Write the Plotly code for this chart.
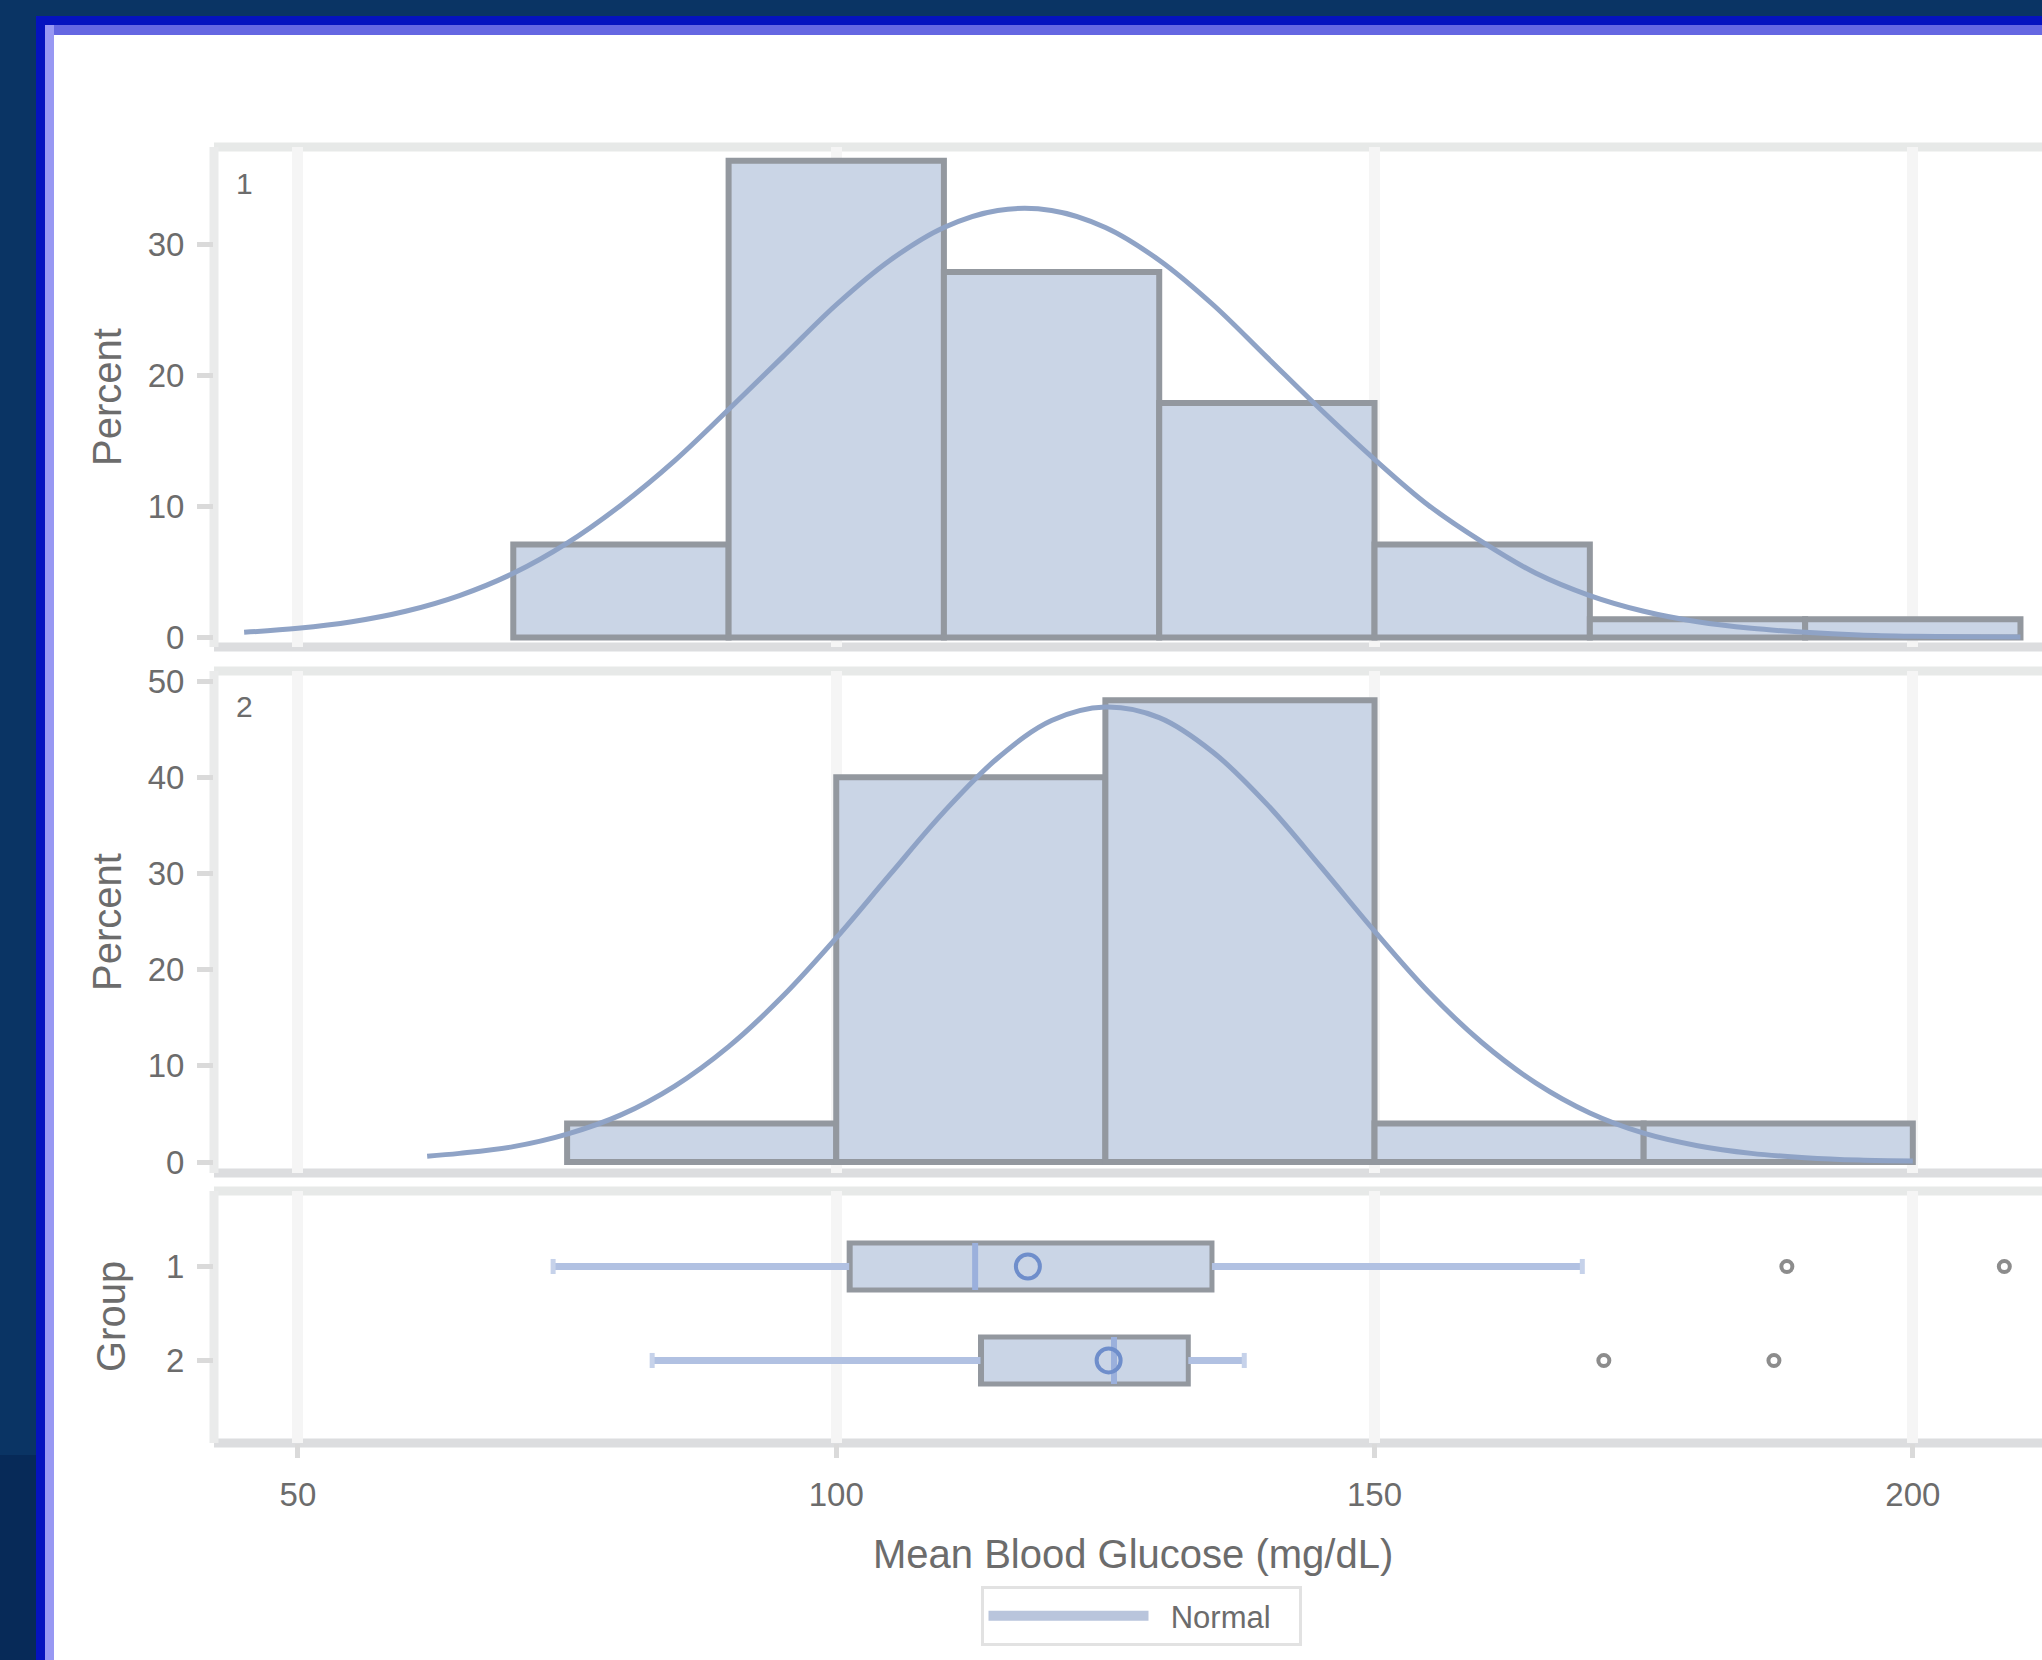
import plotly.graph_objects as go

# ---------------- data ----------------
# Group 1 histogram (percent per 20-unit bin)
g1_bin_start = [70, 90, 110, 130, 150, 170, 190]
g1_bin_width = 20
g1_percent = [7.1, 36.4, 27.9, 17.9, 7.1, 1.4, 1.4]

# Group 2 histogram (percent per 25-unit bin)
g2_bin_start = [75, 100, 125, 150, 175]
g2_bin_width = 25
g2_percent = [4.0, 40.0, 48.0, 4.0, 4.0]

# Normal curves, points
g1_curve_x = [45, 50, 55, 60, 65, 70, 75, 80, 85, 90, 95, 100, 105, 110, 115, 120, 125, 130, 135,
              140, 145, 150, 155, 160, 165, 170, 175, 180, 185, 190, 195, 200, 205, 210]
g1_curve_y = [0.4, 0.7, 1.2, 2.0, 3.2, 4.9, 7.2, 10.1, 13.5, 17.4, 21.4, 25.4, 28.8, 31.3, 32.6, 32.6,
              31.3, 28.8, 25.4, 21.4, 17.4, 13.6, 10.1, 7.3, 4.9, 3.2, 2.0, 1.2, 0.7, 0.4, 0.2, 0.1, 0.05, 0.03]

g2_curve_x = [62, 65, 70, 75, 80, 85, 90, 95, 100, 105, 110, 115, 120, 125, 130, 135, 140, 145, 150,
              155, 160, 165, 170, 175, 180, 185, 190, 195, 200]
g2_curve_y = [0.6, 0.9, 1.6, 2.9, 4.9, 7.9, 12.0, 17.2, 23.3, 29.9, 36.4, 42.0, 45.9, 47.3, 46.2, 42.6,
              37.2, 30.7, 24.0, 17.7, 12.4, 8.2, 5.1, 3.0, 1.7, 0.9, 0.45, 0.2, 0.1]

# Box plot summaries
groups = [1, 2]
group_labels = ["1", "2"]
lower_whisker = [73.7, 82.9]
q1 = [101.2, 113.4]
median = [112.9, 125.8]
mean = [117.8, 125.3]
q3 = [134.9, 132.7]
upper_whisker = [169.3, 137.9]
outlier_x = [188.3, 208.5, 171.3, 187.1]
outlier_group = [1, 1, 2, 2]

x_ticks = [50, 100, 150, 200]
top_y_ticks = [0, 10, 20, 30]
mid_y_ticks = [0, 10, 20, 30, 40, 50]

# ---------------- geometry / style ----------------
W, H = 2042, 1660
L, R, T, B = 214, 0, 147, 217
PW = W - L - R
PH = H - T - B


def px(xp):
    return (xp - L) / PW


def py(yp):
    return (H - B - yp) / PH


FONT = "Liberation Sans, Arial, sans-serif"
TXT = "#6c6c6c"
BAR_FILL = "#cad5e6"
BAR_LINE = "#93989f"
CURVE = "#8fa3c6"
WHISK = "#b1c1e2"

fig = go.Figure()

# histograms
fig.add_trace(go.Bar(
    x=[s + g1_bin_width / 2 for s in g1_bin_start], y=g1_percent,
    width=[g1_bin_width] * len(g1_bin_start),
    marker=dict(color=BAR_FILL, line=dict(color=BAR_LINE, width=6)),
    showlegend=False, xaxis="x", yaxis="y", hoverinfo="skip"))
fig.add_trace(go.Scatter(
    x=g1_curve_x, y=g1_curve_y, mode="lines", name="Normal",
    line=dict(color=CURVE, width=5, shape="spline"),
    showlegend=False, xaxis="x", yaxis="y", hoverinfo="skip"))

fig.add_trace(go.Bar(
    x=[s + g2_bin_width / 2 for s in g2_bin_start], y=g2_percent,
    width=[g2_bin_width] * len(g2_bin_start),
    marker=dict(color=BAR_FILL, line=dict(color=BAR_LINE, width=6)),
    showlegend=False, xaxis="x2", yaxis="y2", hoverinfo="skip"))
fig.add_trace(go.Scatter(
    x=g2_curve_x, y=g2_curve_y, mode="lines", name="Normal",
    line=dict(color=CURVE, width=5, shape="spline"),
    showlegend=False, xaxis="x2", yaxis="y2", hoverinfo="skip"))

# legend entry for the normal curves
fig.add_trace(go.Scatter(
    x=[None], y=[None], mode="lines", name="\u00a0\u00a0Normal",
    line=dict(color="#b9c5dc", width=12),
    showlegend=True, xaxis="x", yaxis="y", hoverinfo="skip"))

# box plot: boxes (whiskers drawn separately in blue)
fig.add_trace(go.Box(
    orientation="h", y=groups, q1=q1, median=q1, q3=q3,
    lowerfence=q1, upperfence=q3,
    fillcolor=BAR_FILL, line=dict(color=BAR_LINE, width=5), width=0.5,
    boxpoints=False, showlegend=False, xaxis="x3", yaxis="y3", hoverinfo="skip"))

wx, wy, cx, cy, mx, my = [], [], [], [], [], []
for g, lw, a, b, uw, md in zip(groups, lower_whisker, q1, q3, upper_whisker, median):
    wx += [lw, a, None, b, uw, None]
    wy += [g, g, None, g, g, None]
    cx += [lw, lw, None, uw, uw, None]
    cy += [g - 0.08, g + 0.08, None, g - 0.08, g + 0.08, None]
    mx += [md, md, None]
    my += [g - 0.25, g + 0.25, None]

fig.add_trace(go.Scatter(x=wx, y=wy, mode="lines", line=dict(color=WHISK, width=7),
                         showlegend=False, xaxis="x3", yaxis="y3", hoverinfo="skip"))
fig.add_trace(go.Scatter(x=cx, y=cy, mode="lines", line=dict(color="#c6d2ea", width=5),
                         showlegend=False, xaxis="x3", yaxis="y3", hoverinfo="skip"))
fig.add_trace(go.Scatter(x=mx, y=my, mode="lines", line=dict(color="#9bb0dc", width=6),
                         showlegend=False, xaxis="x3", yaxis="y3", hoverinfo="skip"))
fig.add_trace(go.Scatter(x=mean, y=groups, mode="markers",
                         marker=dict(symbol="circle-open", size=24, color="#6f8ecb",
                                     line=dict(color="#6f8ecb", width=4)),
                         showlegend=False, xaxis="x3", yaxis="y3", hoverinfo="skip"))
fig.add_trace(go.Scatter(x=outlier_x, y=outlier_group, mode="markers",
                         marker=dict(symbol="circle-open", size=11, color="#8c8c8c",
                                     line=dict(color="#8c8c8c", width=4)),
                         showlegend=False, xaxis="x3", yaxis="y3", hoverinfo="skip"))

# ---------------- axes ----------------
x_common = dict(range=[42.2, 212.0], tickvals=x_ticks, showgrid=True,
                gridcolor="#f5f5f5", gridwidth=11, zeroline=False, showline=False)
y_common = dict(showgrid=False, zeroline=False, showline=False, ticks="outside",
                ticklen=16, tickwidth=5, tickcolor="#dadada",
                tickfont=dict(family=FONT, size=33, color=TXT), ticklabelstandoff=6)

dom_top = [py(647), 1.0]
dom_mid = [py(1173), py(671)]
dom_box = [0.0, py(1191)]

fig.update_layout(
    xaxis=dict(**x_common, anchor="y", showticklabels=False, ticks=""),
    xaxis2=dict(**x_common, anchor="y2", matches="x", showticklabels=False, ticks=""),
    xaxis3=dict(**x_common, anchor="y3", matches="x", ticks="outside", ticklen=14,
                tickwidth=5, tickcolor="#dadada",
                tickfont=dict(family=FONT, size=33, color=TXT), ticklabelstandoff=8),
    yaxis=dict(**y_common, domain=dom_top, anchor="x", range=[-0.725, 37.44], tickvals=top_y_ticks),
    yaxis2=dict(**y_common, domain=dom_mid, anchor="x2", range=[-1.14, 51.04], tickvals=mid_y_ticks),
    yaxis3=dict(**y_common, domain=dom_box, anchor="x3", range=[2.878, 0.197],
                tickvals=groups, ticktext=group_labels),
)

# ---------------- frame & panel borders ----------------
shapes = []
BIG_R = 1.05
BOT = py(1700)
shapes.append(dict(type="rect", xref="paper", yref="paper", x0=px(36), x1=BIG_R, y0=BOT, y1=py(16),
                   fillcolor="#0513bf", line=dict(width=0), layer="below"))
shapes.append(dict(type="rect", xref="paper", yref="paper", x0=px(45), x1=BIG_R, y0=py(35), y1=py(25),
                   fillcolor="#6567e2", line=dict(width=0), layer="below"))
shapes.append(dict(type="rect", xref="paper", yref="paper", x0=px(45), x1=px(54), y0=BOT, y1=py(25),
                   fillcolor="#9898f3", line=dict(width=0), layer="below"))
shapes.append(dict(type="rect", xref="paper", yref="paper", x0=px(54), x1=BIG_R, y0=BOT, y1=py(35),
                   fillcolor="white", line=dict(width=0), layer="below"))
shapes.append(dict(type="rect", xref="paper", yref="paper", x0=px(-5), x1=px(36), y0=BOT, y1=py(1455),
                   fillcolor="#072a58", line=dict(width=0), layer="below"))

for ydom in ["y domain", "y2 domain", "y3 domain"]:
    shapes.append(dict(type="line", xref="paper", yref=ydom, x0=0, x1=BIG_R, y0=1, y1=1,
                       line=dict(color="#e7e9e8", width=9), layer="below"))
    shapes.append(dict(type="line", xref="paper", yref=ydom, x0=0, x1=BIG_R, y0=0, y1=0,
                       line=dict(color="#dcdddf", width=9), layer="below"))
    shapes.append(dict(type="line", xref="paper", yref=ydom, x0=0, x1=0, y0=0, y1=1,
                       line=dict(color="#eaebeb", width=9), layer="below"))

annotations = [
    dict(text="Percent", x=px(107), y=py(397), textangle=-90),
    dict(text="Percent", x=px(107), y=py(922), textangle=-90),
    dict(text="Group", x=px(111), y=py(1317), textangle=-90),
    dict(text="Mean Blood Glucose (mg/dL)", x=px(1133), y=py(1554)),
]
for a in annotations:
    a.update(xref="paper", yref="paper", showarrow=False, xanchor="center", yanchor="middle",
             font=dict(family=FONT, size=40, color=TXT))
annotations.append(dict(text="1", x=px(234), y=py(183), xref="paper", yref="paper", showarrow=False,
                        xanchor="left", yanchor="middle", font=dict(family=FONT, size=30, color=TXT)))
annotations.append(dict(text="2", x=px(234), y=py(706), xref="paper", yref="paper", showarrow=False,
                        xanchor="left", yanchor="middle", font=dict(family=FONT, size=30, color=TXT)))

fig.update_layout(
    width=W, height=H, autosize=False,
    margin=dict(l=L, r=R, t=T, b=B, pad=0),
    paper_bgcolor="#0a3464", plot_bgcolor="white",
    shapes=shapes, annotations=annotations,
    font=dict(family=FONT, color=TXT),
    barmode="overlay",
    legend=dict(orientation="h", x=px(1141), xanchor="center", y=py(1586), yanchor="top",
                bgcolor="white", bordercolor="#e2e2e2", borderwidth=3,
                font=dict(family=FONT, size=31, color=TXT), itemwidth=160,
                entrywidth=140, entrywidthmode="pixels"),
)

fig.write_html("out.html", config={"displayModeBar": False},
               post_script="document.body.style.margin='0';document.body.style.overflow='hidden';")
